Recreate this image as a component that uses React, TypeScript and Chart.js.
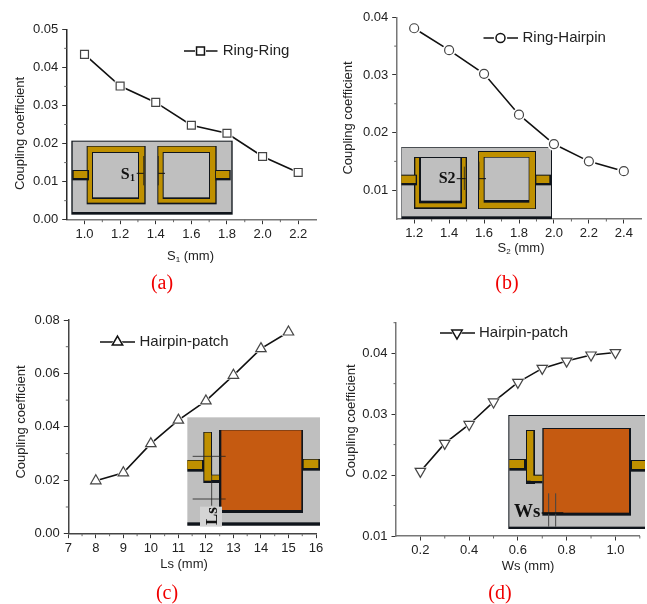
import React, { useEffect, useRef } from "react";
import { Chart, registerables } from "chart.js";
import { drawPoint } from "chart.js/helpers";

Chart.register(...registerables);

const s1Values = [1.0, 1.2, 1.4, 1.6, 1.8, 2.0, 2.2];
const ringRing = [0.0434, 0.0351, 0.0308, 0.0248, 0.0227, 0.0166, 0.0124];
const s2Values = [1.2, 1.4, 1.6, 1.8, 2.0, 2.2, 2.4];
const ringHairpin = [0.0381, 0.0343, 0.0302, 0.0231, 0.018, 0.015, 0.0133];
const lsValues = [8, 9, 10, 11, 12, 13, 14, 15];
const hairpinPatchLs = [0.0198, 0.0228, 0.0337, 0.0425, 0.0497, 0.0593, 0.0693, 0.0755];
const wsValues = [0.2, 0.3, 0.4, 0.5, 0.6, 0.7, 0.8, 0.9, 1.0];
const hairpinPatchWs = [0.0206, 0.0252, 0.0283, 0.032, 0.0352, 0.0375, 0.0387, 0.0397, 0.0401];

const ticksXA = [1.0, 1.2, 1.4, 1.6, 1.8, 2.0, 2.2];
const ticksYA = [0, 0.01, 0.02, 0.03, 0.04, 0.05];
const ticksXB = [1.2, 1.4, 1.6, 1.8, 2.0, 2.2, 2.4];
const ticksYB = [0.01, 0.02, 0.03, 0.04];
const ticksXC = [7, 8, 9, 10, 11, 12, 13, 14, 15, 16];
const ticksYC = [0, 0.02, 0.04, 0.06, 0.08];
const ticksXD = [0.2, 0.4, 0.6, 0.8, 1.0];
const ticksYD = [0.01, 0.02, 0.03, 0.04];

const minorXA = [1.1, 1.3, 1.5, 1.7, 1.9, 2.1];
const minorYA = [0.005, 0.015, 0.025, 0.035, 0.045];
const minorXB = [1.3, 1.5, 1.7, 1.9, 2.1, 2.3];
const minorYB = [0.015, 0.025, 0.035];
const minorXC = [7.5, 8.5, 9.5, 10.5, 11.5, 12.5, 13.5, 14.5, 15.5];
const minorYC = [0.01, 0.03, 0.05, 0.07];
const minorXD = [0.3, 0.5, 0.7, 0.9, 1.1];
const minorYD = [0.015, 0.025, 0.035, 0.045];

const INK = "#222";
const GRAY = "#bfbfbf";
const GOLD = "#bf9000";
const ORANGE = "#c55a11";
const DARK = "#10151c";
const SANS = "'Liberation Sans', Arial, sans-serif";
const SERIF = "'Liberation Serif', 'Times New Roman', serif";
const HALO = 2.2;

type Ctx = CanvasRenderingContext2D;

// Rectangles are given in 3x units of the panel's local space.
const box = (c: Ctx, x0: number, y0: number, x1: number, y1: number, color: string) => {
  c.fillStyle = color;
  c.fillRect(x0 / 3, y0 / 3, (x1 - x0) / 3, (y1 - y0) / 3);
};
const seg = (c: Ctx, x0: number, y0: number, x1: number, y1: number, color = "#222", w = 0.8) => {
  c.strokeStyle = color;
  c.lineWidth = w;
  c.beginPath();
  c.moveTo(x0 / 3, y0 / 3);
  c.lineTo(x1 / 3, y1 / 3);
  c.stroke();
};
const label = (c: Ctx, s: string, x: number, y: number, font: string, color = "#111", align: CanvasTextAlign = "left") => {
  c.font = font;
  c.fillStyle = color;
  c.textAlign = align;
  c.textBaseline = "alphabetic";
  c.fillText(s, x / 3, y / 3);
};

const insetA = (c: Ctx) => {
  box(c, 214, 422, 698, 644, DARK);
  box(c, 218, 425, 694, 636, GRAY);
  for (const [a, b] of [[260, 437], [472, 650]]) {
    box(c, a, 438, b, 613, DARK);
    box(c, a + 3, 440, b - 4, 608, GOLD);
    box(c, a + 16, 456, b - 20, 597, DARK);
    box(c, a + 19, 459, b - 23, 592, GRAY);
  }
  box(c, 217, 510, 267, 541, DARK);
  box(c, 221, 513, 262, 534, GOLD);
  box(c, 646, 510, 692, 541, DARK);
  box(c, 648, 513, 688, 534, GOLD);
  seg(c, 431, 468, 431, 556);
  seg(c, 475, 468, 475, 556);
  seg(c, 410, 520, 431, 520, "#111", 1);
  seg(c, 475, 520, 495, 520, "#111", 1);
  label(c, "S", 362, 536, `bold 16px ${SERIF}`);
  label(c, "1", 390, 544, `bold 10px ${SERIF}`);
};

const insetB = (c: Ctx) => {
  box(c, 229, 441, 681, 657, DARK);
  box(c, 230, 443, 678, 649, GRAY);
  box(c, 267, 471, 426, 627, DARK);
  box(c, 271, 474, 422, 622, GOLD);
  box(c, 282, 471, 411, 610, DARK);
  box(c, 288, 474, 406, 602, GRAY);
  box(c, 459, 453, 633, 627, DARK);
  box(c, 462, 456, 630, 625, GOLD);
  box(c, 476, 471, 613, 608, DARK);
  box(c, 479, 473, 611, 600, GRAY);
  box(c, 229, 524, 276, 556, DARK);
  box(c, 229, 527, 272, 549, GOLD);
  box(c, 632, 524, 680, 556, DARK);
  box(c, 634, 527, 673, 549, GOLD);
  seg(c, 418, 500, 418, 570);
  seg(c, 462, 485, 462, 570);
  seg(c, 395, 536, 422, 536, "#111", 1);
  seg(c, 462, 536, 483, 536, "#111", 1);
  label(c, "S2", 341, 550, `bold 16px ${SERIF}`);
};

const insetC = (c: Ctx) => {
  box(c, 562, 340, 960, 665, GRAY);
  box(c, 562, 655, 960, 665, DARK);
  box(c, 657, 378, 909, 627, DARK);
  box(c, 664, 379, 904, 618, ORANGE);
  box(c, 610, 384, 636, 537, DARK);
  box(c, 636, 512, 657, 537, DARK);
  box(c, 613, 386, 633, 530, GOLD);
  box(c, 625, 514, 657, 528, GOLD);
  box(c, 562, 468, 612, 503, DARK);
  box(c, 562, 470, 606, 495, GOLD);
  box(c, 909, 465, 960, 500, DARK);
  box(c, 911, 467, 955, 492, GOLD);
  seg(c, 578, 457, 677, 457);
  seg(c, 578, 585, 677, 585);
  seg(c, 635, 457, 635, 605);
  box(c, 600, 608, 666, 668, "#d4d4d4");
  c.save();
  c.translate(217, 221);
  c.rotate(-Math.PI / 2);
  label(c, "Ls", 0, 0, `bold 17px ${SERIF}`);
  c.restore();
};

const insetD = (c: Ctx) => {
  box(c, 550, 333, 960, 675, DARK);
  box(c, 553, 336, 960, 668, GRAY);
  box(c, 652, 372, 918, 635, DARK);
  box(c, 656, 375, 912, 626, ORANGE);
  box(c, 603, 378, 630, 540, DARK);
  box(c, 630, 512, 652, 538, DARK);
  box(c, 606, 381, 625, 530, GOLD);
  box(c, 617, 515, 652, 531, GOLD);
  box(c, 553, 465, 605, 500, DARK);
  box(c, 553, 468, 597, 492, GOLD);
  box(c, 918, 468, 960, 503, DARK);
  box(c, 921, 471, 960, 495, GOLD);
  seg(c, 671, 568, 671, 668, "#444", 1);
  seg(c, 692, 568, 692, 668, "#444", 1);
  seg(c, 650, 627, 715, 627, "#111", 1.5);
  label(c, "Ws", 567, 640, `bold 19px ${SERIF}`);
};

type Panel = {
  left: number; top: number; width: number; height: number;
  area: { x: number; top: number; bottom: number; right: number };
  xs: number[]; ys: number[]; name: string;
  pointStyle: string; rotation: number; radius: number;
  xMin: number; xMax: number; xDigits: number;
  yMin: number; yMax: number;
  xColor: string; yColor: string;
  ticksX: number[]; ticksY: number[];
  minorX: number[]; minorY: number[];
  xTitle: string; xSub?: string; xTitlePos: [number, number];
  yTitlePos: [number, number];
  legend: [number, number, number, number, number];
  caption: string; captionPos: [number, number];
  inset: (c: Ctx) => void;
};

const panels: Panel[] = [
  {
    left: 0, top: 0, width: 325, height: 300,
    area: { x: 66.7, top: 29.3, bottom: 219.7, right: 316 },
    xs: s1Values, ys: ringRing, name: "Ring-Ring",
    pointStyle: "rect", rotation: 0, radius: 5.6,
    xMin: 0.9, xMax: 2.3, xDigits: 1,
    yMin: 0, yMax: 0.05, xColor: "#777", yColor: "#2a2a2a",
    ticksX: ticksXA, ticksY: ticksYA, minorX: minorXA, minorY: minorYA,
    xTitle: "S", xSub: "1", xTitlePos: [191, 256], yTitlePos: [20, 133.5],
    legend: [184, 217.5, 200.5, 222.7, 51],
    caption: "(a)", captionPos: [162, 284], inset: insetA,
  },
  {
    left: 325, top: 0, width: 322, height: 300,
    area: { x: 71.7, top: 17.3, bottom: 219, right: 316.7 },
    xs: s2Values, ys: ringHairpin, name: "Ring-Hairpin",
    pointStyle: "circle", rotation: 0, radius: 4.5,
    xMin: 1.1, xMax: 2.5, xDigits: 1,
    yMin: 0.005, yMax: 0.04, xColor: "#777", yColor: "#777",
    ticksX: ticksXB, ticksY: ticksYB, minorX: minorXB, minorY: minorYB,
    xTitle: "S", xSub: "2", xTitlePos: [196.5, 248], yTitlePos: [23, 118],
    legend: [158.5, 193, 175.5, 197.5, 38],
    caption: "(b)", captionPos: [182, 284], inset: insetB,
  },
  {
    left: 0, top: 304, width: 330, height: 300,
    area: { x: 68.3, top: 16, bottom: 229.7, right: 316 },
    xs: lsValues, ys: hairpinPatchLs, name: "Hairpin-patch",
    pointStyle: "triangle", rotation: 0, radius: 6,
    xMin: 7, xMax: 16, xDigits: 0,
    yMin: 0, yMax: 0.08, xColor: "#444", yColor: "#444",
    ticksX: ticksXC, ticksY: ticksYC, minorX: minorXC, minorY: minorYC,
    xTitle: "Ls (mm)", xTitlePos: [184, 260], yTitlePos: [21, 118],
    legend: [100, 135, 117.5, 139.5, 38],
    caption: "(c)", captionPos: [167, 290], inset: insetC,
  },
  {
    left: 325, top: 304, width: 322, height: 300,
    area: { x: 71, top: 18.7, bottom: 232, right: 320 },
    xs: wsValues, ys: hairpinPatchWs, name: "Hairpin-patch",
    pointStyle: "triangle", rotation: 180, radius: 6,
    xMin: 0.1, xMax: 1.1, xDigits: 1,
    yMin: 0.01, yMax: 0.045, xColor: "#777", yColor: "#777",
    ticksX: ticksXD, ticksY: ticksYD, minorX: minorXD, minorY: minorYD,
    xTitle: "Ws (mm)", xTitlePos: [203, 262], yTitlePos: [26, 117],
    legend: [115, 150, 132, 154, 29],
    caption: "(d)", captionPos: [175, 290], inset: insetD,
  },
];

const makeDecor = (p: Panel) => ({
  id: "decor",
  beforeDatasetsDraw(chart: any) {
    const c: Ctx = chart.ctx;
    c.save();
    p.inset(c);
    c.restore();
  },
  afterDatasetsDraw(chart: any) {
    const c: Ctx = chart.ctx;
    c.save();
    // white halo round each marker, as the line stops short of it
    const meta = chart.getDatasetMeta(0);
    for (const el of meta.data) {
      const o = el.options;
      drawPoint(c, { ...o, radius: o.radius + HALO, borderWidth: 0, backgroundColor: "#fff", borderColor: "#fff" }, el.x, el.y);
      drawPoint(c, o, el.x, el.y);
    }
    // minor ticks
    const { x: sx, y: sy } = chart.scales;
    c.lineWidth = 1;
    c.strokeStyle = "#666";
    c.beginPath();
    for (const v of p.minorX) {
      const px = sx.getPixelForValue(v);
      c.moveTo(px, sx.top);
      c.lineTo(px, sx.top + 2.5);
    }
    for (const v of p.minorY) {
      const py = sy.getPixelForValue(v);
      c.moveTo(sy.right, py);
      c.lineTo(sy.right - 2.5, py);
    }
    c.stroke();
    // legend
    const [l0, l1, mx, tx, ly] = p.legend;
    c.strokeStyle = "#111";
    c.lineWidth = 1.5;
    c.beginPath();
    c.moveTo(l0, ly);
    c.lineTo(l1, ly);
    c.stroke();
    const legendPoint = {
      pointStyle: p.pointStyle, rotation: p.rotation, radius: p.radius,
      borderWidth: 1.2, borderColor: "#555", backgroundColor: "#fff",
    };
    drawPoint(c, { ...legendPoint, radius: p.radius + HALO, borderWidth: 0, borderColor: "#fff" }, mx, ly);
    drawPoint(c, legendPoint, mx, ly);
    c.textBaseline = "middle";
    c.textAlign = "left";
    c.fillStyle = INK;
    c.font = `15px ${SANS}`;
    c.fillText(p.name, tx, ly);
    // axis titles
    c.font = `13px ${SANS}`;
    c.textAlign = "center";
    const [xtx, xty] = p.xTitlePos;
    if (p.xSub) {
      c.textAlign = "left";
      c.fillText(p.xTitle, xtx - 24, xty);
      const w = c.measureText(p.xTitle).width;
      c.font = `8px ${SANS}`;
      c.fillText(p.xSub, xtx - 24 + w, xty + 4);
      c.font = `13px ${SANS}`;
      c.fillText("(mm)", xtx - 24 + w + 8, xty);
    } else {
      c.fillText(p.xTitle, xtx, xty);
    }
    c.save();
    c.translate(p.yTitlePos[0], p.yTitlePos[1]);
    c.rotate(-Math.PI / 2);
    c.textAlign = "center";
    c.fillText("Coupling coefficient", 0, 0);
    c.restore();
    // caption
    c.fillStyle = "#f00000";
    c.font = `20px ${SERIF}`;
    c.textAlign = "center";
    c.fillText(p.caption, p.captionPos[0], p.captionPos[1]);
    c.restore();
  },
});

function Panel({ p }: { p: Panel }) {
  const ref = useRef<HTMLCanvasElement>(null);
  useEffect(() => {
    if (!ref.current) return;
    const tickFont = { family: SANS, size: 13 };
    const axisGrid = (color: string) => ({
      border: { color, width: 1.5 },
      grid: { drawOnChartArea: false, drawTicks: true, tickLength: 4.5, tickColor: "#333", tickWidth: 1 },
    });
    const chart = new Chart(ref.current, {
      type: "line",
      data: {
        datasets: [{
          label: p.name,
          data: p.xs.map((x, i) => ({ x, y: p.ys[i] })),
          borderColor: "#111",
          borderWidth: 1.6,
          tension: 0,
          pointStyle: p.pointStyle as any,
          rotation: p.rotation,
          pointRadius: p.radius,
          pointBorderWidth: 1.2,
          pointBorderColor: "#444",
          pointBackgroundColor: "#fff",
          clip: false as any,
        }],
      },
      options: {
        animation: false,
        responsive: false,
        devicePixelRatio: 1,
        layout: { padding: { left: 0, top: p.area.top, right: p.width - p.area.right, bottom: 0 } },
        plugins: { legend: { display: false }, tooltip: { enabled: false } },
        scales: {
          x: {
            type: "linear",
            ...axisGrid(p.xColor),
            min: p.xMin, max: p.xMax,
            afterBuildTicks: (s: any) => { s.ticks = p.ticksX.map((value) => ({ value })); },
            afterFit: (s: any) => {
              s.height = p.height - p.area.bottom;
              s.paddingLeft = s.paddingRight = s.paddingTop = s.paddingBottom = 0;
            },
            ticks: {
              autoSkip: false, maxRotation: 0,
              padding: 2, color: INK, font: tickFont,
              callback: (v: any) => Number(v).toFixed(p.xDigits),
            },
          },
          y: {
            type: "linear",
            ...axisGrid(p.yColor),
            min: p.yMin, max: p.yMax,
            afterBuildTicks: (s: any) => { s.ticks = p.ticksY.map((value) => ({ value })); },
            afterFit: (s: any) => {
              s.width = p.area.x;
              s.paddingLeft = s.paddingRight = s.paddingTop = s.paddingBottom = 0;
            },
            ticks: {
              autoSkip: false,
              padding: 4, color: INK, font: tickFont,
              callback: (v: any) => Number(v).toFixed(2),
            },
          },
        },
      },
      plugins: [makeDecor(p)],
    } as any);
    return () => chart.destroy();
  }, [p]);
  return (
    <canvas
      ref={ref}
      width={p.width}
      height={p.height}
      style={{ position: "absolute", left: p.left, top: p.top, width: p.width, height: p.height }}
    />
  );
}

export default function App() {
  return (
    <div style={{ position: "absolute", left: 0, top: 0, width: 647, height: 604, background: "#fff", overflow: "hidden" }}>
      {panels.map((p, i) => <Panel key={i} p={p} />)}
    </div>
  );
}
